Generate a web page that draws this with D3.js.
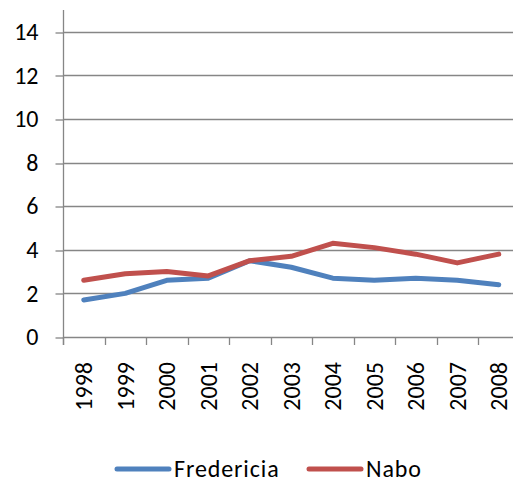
<!DOCTYPE html>
<html lang="en">
<head>
  <meta charset="UTF-8">
  <title>Fredericia vs Nabo</title>
  <style>
    * { box-sizing: border-box; margin: 0; padding: 0; }
    body { background: #fff; }
    svg { display: block; }
    text { font-family: Carlito, 'Open Sans', sans-serif; fill: #000; }
  </style>
</head>
<body>
  <svg></svg>
  <script src="https://d3js.org/d3.v7.min.js"></script>
  <script>
    const years = ['1998', '1999', '2000', '2001', '2002', '2003', '2004', '2005', '2006', '2007', '2008'];
    const fredericia = [1.7, 2.0, 2.6, 2.7, 3.5, 3.2, 2.7, 2.6, 2.7, 2.6, 2.4];
    const nabo = [2.6, 2.9, 3.0, 2.8, 3.5, 3.7, 4.3, 4.1, 3.8, 3.4, 3.8];
    const yTicks = [0, 2, 4, 6, 8, 10, 12, 14];
    const seriesNames = ['Fredericia', 'Nabo'];

    const width = 513;
    const height = 479;
    const axisColor = '#868686';
    const colors = ['#4f81bd', '#c0504d'];
    const fontSize = 24;

    const svg = d3.select('svg')
      .attr('width', width)
      .attr('height', height);

    const x = d3.scaleBand().domain(years).range([63, 519.5]).padding(0);
    const y = d3.scaleLinear().domain([0, 15]).range([337, 10]);

    // gridlines
    svg.append('g')
      .selectAll('line')
      .data(yTicks.filter(d => d > 0))
      .join('line')
      .attr('x1', 63)
      .attr('x2', 519.5)
      .attr('y1', d => Math.round(y(d)) + 0.5)
      .attr('y2', d => Math.round(y(d)) + 0.5)
      .attr('stroke', axisColor)
      .attr('stroke-width', 1.3);

    // y axis
    const yAxis = svg.append('g')
      .attr('transform', 'translate(63.5,0)')
      .call(d3.axisLeft(y).tickValues(yTicks).tickSize(8).tickSizeOuter(0).tickPadding(17));
    yAxis.select('.domain').remove();
    yAxis.selectAll('line').attr('stroke', axisColor).attr('stroke-width', 1.3);
    yAxis.selectAll('text').attr('font-size', fontSize).attr('font-family', null).attr('fill', '#000');
    yAxis.selectAll('.tick line').attr('transform', d => 'translate(0,' + (Math.round(y(d)) + 0.5 - y(d)) + ')');

    svg.append('line')
      .attr('x1', 63.5).attr('x2', 63.5)
      .attr('y1', 10).attr('y2', 345)
      .attr('stroke', axisColor).attr('stroke-width', 1.3);

    // x axis
    svg.append('line')
      .attr('x1', 63).attr('x2', 519.5)
      .attr('y1', Math.round(y(0)) + 0.5).attr('y2', Math.round(y(0)) + 0.5)
      .attr('stroke', axisColor).attr('stroke-width', 1.3);

    svg.append('g')
      .selectAll('line')
      .data(years)
      .join('line')
      .attr('x1', d => Math.round(x(d)) + 0.5)
      .attr('x2', d => Math.round(x(d)) + 0.5)
      .attr('y1', y(0))
      .attr('y2', 345)
      .attr('stroke', axisColor)
      .attr('stroke-width', 1.3);

    svg.append('g')
      .selectAll('text')
      .data(years)
      .join('text')
      .attr('transform', d => 'translate(' + (x(d) + x.bandwidth() / 2) + ',362) rotate(-90)')
      .attr('text-anchor', 'end')
      .attr('dy', '0.35em')
      .attr('font-size', fontSize)
      .text(d => d);

    // lines
    const line = d3.line()
      .x((d, i) => x(years[i]) + x.bandwidth() / 2)
      .y(d => y(d));

    [fredericia, nabo].forEach((values, i) => {
      svg.append('path')
        .datum(values)
        .attr('d', line)
        .attr('fill', 'none')
        .attr('stroke', colors[i])
        .attr('stroke-width', 5)
        .attr('stroke-linejoin', 'round')
        .attr('stroke-linecap', 'round');
    });

    // legend
    const legendX = [115, 307];
    const legend = svg.append('g')
      .selectAll('g')
      .data(seriesNames)
      .join('g')
      .attr('transform', (d, i) => 'translate(' + legendX[i] + ',469)');

    legend.append('line')
      .attr('x1', 2).attr('x2', 54)
      .attr('stroke', (d, i) => colors[i])
      .attr('stroke-width', 5)
      .attr('stroke-linecap', 'round');

    legend.append('text')
      .attr('x', 59)
      .attr('dy', '0.35em')
      .attr('font-size', fontSize)
      .attr('letter-spacing', 0.9)
      .text(d => d);
  </script>
</body>
</html>
